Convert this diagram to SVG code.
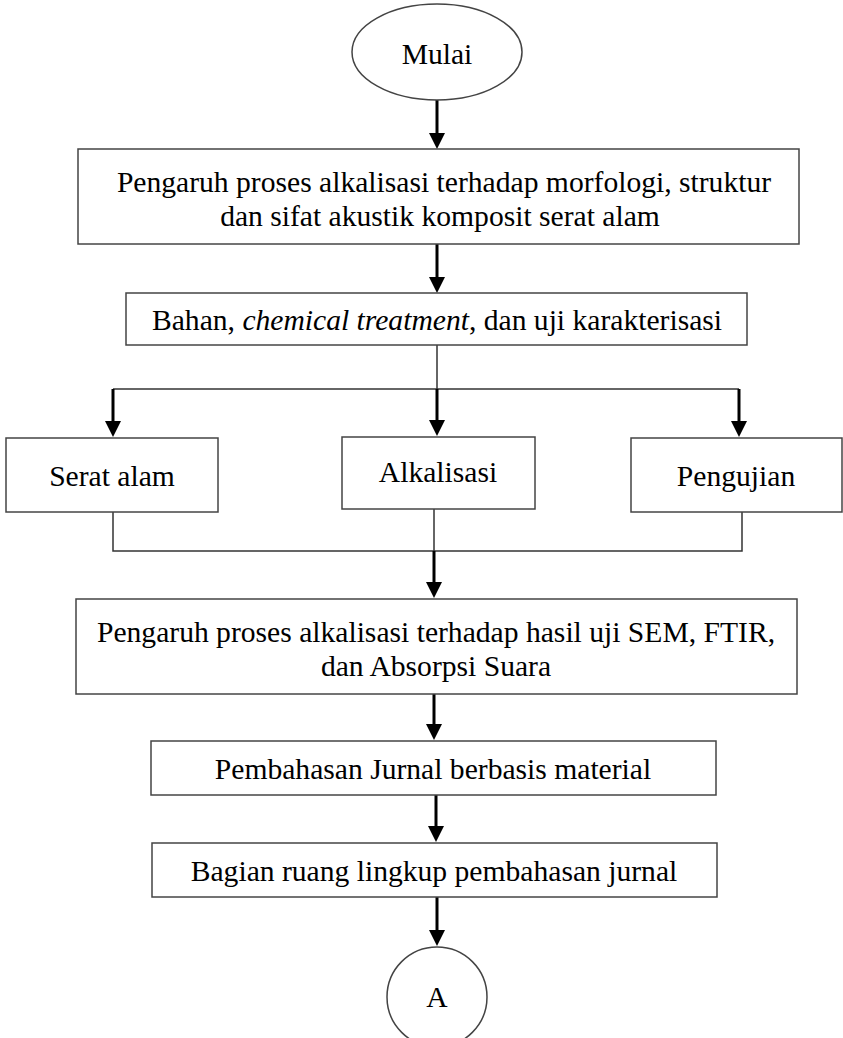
<svg xmlns="http://www.w3.org/2000/svg" width="843" height="1038" viewBox="0 0 843 1038">
  <style>
    .box { fill: #ffffff; stroke: #444444; stroke-width: 1.5; }
    .lbl { font-family: "Liberation Serif", "Times New Roman", serif; font-size: 29.6px; fill: #000000; text-anchor: middle; }
    .thin { fill: none; stroke: #333333; stroke-width: 1.5; }
    .arrow { fill: none; stroke: #000000; stroke-width: 3; marker-end: url(#head); }
  </style>
  <defs>
    <marker id="head" markerUnits="userSpaceOnUse" viewBox="0 0 16 16" markerWidth="16" markerHeight="16" refX="10" refY="8" orient="auto">
      <path d="M0,0 L16,8 L0,16 z" fill="#000000"/>
    </marker>
  </defs>
  <rect width="843" height="1038" fill="#ffffff"/>

  <g id="connectors">
    <line class="arrow" x1="437" y1="100" x2="437" y2="143"/>
    <line class="arrow" x1="437" y1="244" x2="437" y2="287"/>
    <line class="thin" x1="437" y1="345" x2="437" y2="389"/>
    <line class="thin" x1="113" y1="389" x2="739" y2="389"/>
    <line class="arrow" x1="113" y1="389" x2="113" y2="431"/>
    <line class="arrow" x1="437" y1="389" x2="437" y2="430"/>
    <line class="arrow" x1="739" y1="389" x2="739" y2="431"/>
    <polyline class="thin" points="113,512 113,551 742,551 742,512"/>
    <line class="thin" x1="434" y1="509" x2="434" y2="551"/>
    <line class="arrow" x1="434" y1="551" x2="434" y2="592"/>
    <line class="arrow" x1="434" y1="694" x2="434" y2="734"/>
    <line class="arrow" x1="436" y1="795" x2="436" y2="836"/>
    <line class="arrow" x1="437" y1="897" x2="437" y2="940"/>
  </g>

  <g id="start">
    <ellipse class="box" cx="437" cy="52" rx="85" ry="48" stroke-width="1.2"/>
    <text class="lbl" x="437" y="64">Mulai</text>
  </g>

  <g id="topic">
    <rect class="box" x="78" y="149" width="721" height="95"/>
    <text class="lbl" x="444" y="192">Pengaruh proses alkalisasi terhadap morfologi, struktur</text>
    <text class="lbl" x="440" y="226">dan sifat akustik komposit serat alam</text>
  </g>

  <g id="materials">
    <rect class="box" x="126" y="293" width="621" height="52"/>
    <text class="lbl" x="437" y="330">Bahan, <tspan font-style="italic">chemical treatment</tspan>, dan uji karakterisasi</text>
  </g>

  <g id="fiber">
    <rect class="box" x="6" y="438" width="212" height="74"/>
    <text class="lbl" x="112" y="486">Serat alam</text>
  </g>

  <g id="alkali">
    <rect class="box" x="342" y="437" width="193" height="72"/>
    <text class="lbl" x="438" y="482">Alkalisasi</text>
  </g>

  <g id="testing">
    <rect class="box" x="631" y="438" width="211" height="74"/>
    <text class="lbl" x="736" y="486">Pengujian</text>
  </g>

  <g id="results">
    <rect class="box" x="76" y="599" width="721" height="95"/>
    <text class="lbl" x="436" y="642">Pengaruh proses alkalisasi terhadap hasil uji SEM, FTIR,</text>
    <text class="lbl" x="436" y="676">dan Absorpsi Suara</text>
  </g>

  <g id="discussion">
    <rect class="box" x="151" y="741" width="565" height="54"/>
    <text class="lbl" x="433" y="779">Pembahasan Jurnal berbasis material</text>
  </g>

  <g id="scope">
    <rect class="box" x="152" y="843" width="565" height="54"/>
    <text class="lbl" x="434" y="881">Bagian ruang lingkup pembahasan jurnal</text>
  </g>

  <g id="connector-a">
    <circle class="box" cx="437" cy="997" r="50" stroke-width="1.2"/>
    <text class="lbl" x="437" y="1007">A</text>
  </g>
</svg>
